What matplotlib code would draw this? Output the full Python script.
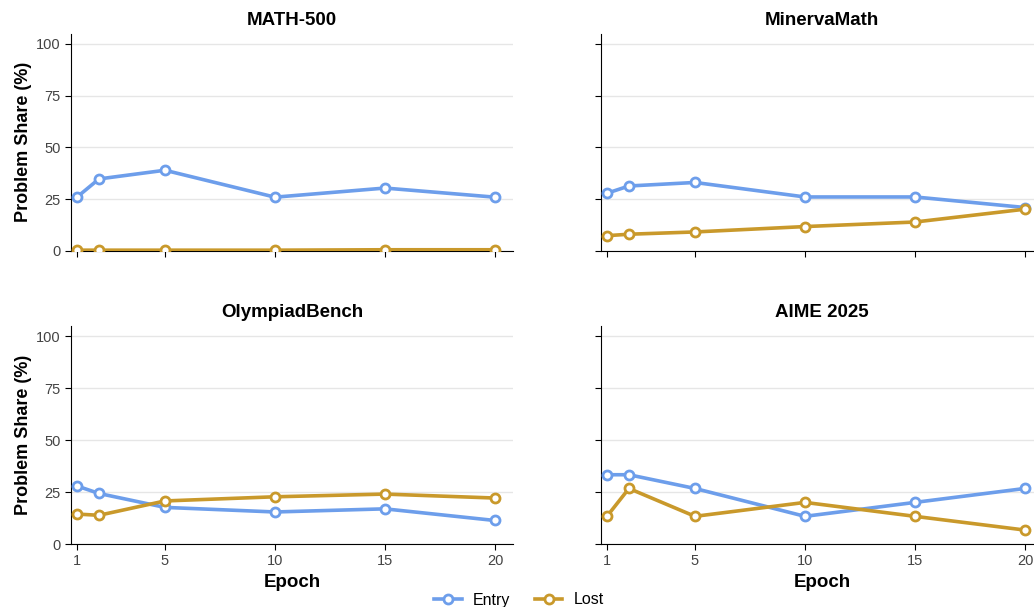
import matplotlib
matplotlib.use("Agg")
import matplotlib.pyplot as plt

plt.rcParams['font.family'] = ['Liberation Sans', 'DejaVu Sans']

# epochs where the share was measured
epochs = [1, 2, 5, 10, 15, 20]

# problem share (%) per benchmark
math500_entry = [26.0, 34.8, 39.0, 26.0, 30.4, 26.0]
math500_lost = [0.4, 0.4, 0.4, 0.4, 0.6, 0.6]
minerva_entry = [27.9, 31.4, 33.1, 26.1, 26.1, 21.0]
minerva_lost = [7.4, 8.1, 9.2, 11.8, 14.0, 20.2]
olympiad_entry = [27.9, 24.3, 17.6, 15.4, 16.9, 11.3]
olympiad_lost = [14.4, 13.8, 20.7, 22.7, 24.0, 22.1]
aime_entry = [33.3, 33.3, 26.7, 13.3, 20.0, 26.7]
aime_lost = [13.3, 26.7, 13.3, 20.0, 13.3, 6.7]

titles = ['MATH-500', 'MinervaMath', 'OlympiadBench', 'AIME 2025']
entry_data = [math500_entry, minerva_entry, olympiad_entry, aime_entry]
lost_data = [math500_lost, minerva_lost, olympiad_lost, aime_lost]

blue = '#6d9eeb'
gold = '#c9992b'

W, H = 1034, 607
fig = plt.figure(figsize=(W / 100, H / 100), dpi=100)

# axes boxes in pixels: left, top, right, bottom
boxes = [(71, 33.6, 513, 251), (601, 33.6, 1043, 251),
         (71, 325.6, 513, 544), (601, 325.6, 1043, 544)]

for i, (l, t, r, b) in enumerate(boxes):
    ax = fig.add_axes([l / W, (H - b) / H, (r - l) / W, (b - t) / H])
    ax.plot(epochs, entry_data[i], color=blue, lw=2.6, marker='o', ms=6.5,
            mfc='white', mec=blue, mew=2, label='Entry', zorder=3)
    ax.plot(epochs, lost_data[i], color=gold, lw=2.6, marker='o', ms=6.5,
            mfc='white', mec=gold, mew=2, label='Lost', zorder=3)
    ax.set_xlim(0.73, 20.82)
    ax.set_ylim(0, 105)
    ax.set_yticks([0, 25, 50, 75, 100])
    ax.set_xticks([1, 5, 10, 15, 20])
    ax.grid(axis='y', color='#e6e6e6', lw=1)
    ax.set_axisbelow(True)
    for s in ['top', 'right']:
        ax.spines[s].set_visible(False)
    ax.tick_params(labelsize=10.5, labelcolor='#444444', length=4)
    ax.set_title(titles[i], fontsize=13.5, fontweight='bold', pad=6)
    if i % 2 == 0:
        ax.set_ylabel('Problem Share (%)', fontsize=13, fontweight='bold',
                      labelpad=3)
    else:
        ax.tick_params(labelleft=False)
    if i < 2:
        ax.tick_params(labelbottom=False)
    else:
        ax.set_xlabel('Epoch', fontsize=13.5, fontweight='bold', labelpad=4)
    if i == 0:
        handles, labels = ax.get_legend_handles_labels()

fig.legend(handles, labels, loc='center', bbox_to_anchor=(519 / W, 1 - 600 / H),
           ncol=2, frameon=False, fontsize=11.5, handlelength=1.75,
           handletextpad=0.7, columnspacing=1.5, borderpad=0)

fig.savefig('out.png', dpi=100)
